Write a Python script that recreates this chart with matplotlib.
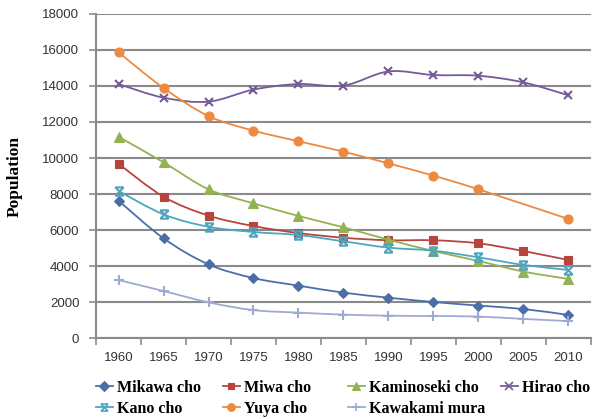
import numpy as np
import matplotlib.pyplot as plt
from matplotlib.path import Path
from matplotlib.patches import PathPatch
from matplotlib.lines import Line2D

years = ["1960", "1965", "1970", "1975", "1980", "1985", "1990", "1995", "2000", "2005", "2010"]

mikawa = [7630, 5540, 4090, 3330, 2910, 2520, 2240, 2000, 1800, 1610, 1280]
miwa = [9680, 7850, 6800, 6220, 5830, 5570, 5430, 5430, 5260, 4830, 4330]
kaminoseki = [11180, 9760, 8260, 7480, 6780, 6150, 5460, 4830, 4280, 3690, 3280]
hirao = [14110, 13350, 13130, 13800, 14110, 14020, 14810, 14610, 14570, 14200, 13480]
kano = [8170, 6870, 6180, 5890, 5720, 5370, 5020, 4850, 4480, 4060, 3780]
yuya = [15870, 13890, 12330, 11520, 10930, 10350, 9700, 9020, 8260, np.nan, 6610]
kawakami = [3220, 2610, 1980, 1550, 1410, 1300, 1240, 1220, 1190, 1060, 940]

names = ["Mikawa cho", "Miwa cho", "Kaminoseki cho", "Hirao cho",
         "Kano cho", "Yuya cho", "Kawakami mura"]
values = [mikawa, miwa, kaminoseki, hirao, kano, yuya, kawakami]
colors = ["#4A6FA8", "#B8443F", "#93B352", "#765A98", "#4DA6C0", "#EE8A40", "#9FAAD3"]

# hourglass-like star marker
star = Path([(-1, -1), (1, 1), (-1, 1), (1, -1), (-1, 1), (1, 1), (-1, -1), (1, -1)],
            [Path.MOVETO, Path.LINETO] * 4)
markers = ["D", "s", "^", "x", star, "o", "+"]
msizes = [5.5, 5.5, 6.5, 6, 6, 6.5, 7]


def smooth_path(x, y):
    # bezier segments like spreadsheet "smoothed line"
    pts = np.column_stack([x, y])
    n = len(pts)
    verts = [pts[0]]
    codes = [Path.MOVETO]
    for i in range(n - 1):
        p0 = pts[max(i - 1, 0)]
        p1 = pts[i]
        p2 = pts[i + 1]
        p3 = pts[min(i + 2, n - 1)]
        c1 = p1 + (p2 - p0) / 6.0
        c2 = p2 - (p3 - p1) / 6.0
        verts += [c1, c2, p2]
        codes += [Path.CURVE4] * 3
    return Path(verts, codes)


plt.rcParams["font.family"] = ["Liberation Sans", "DejaVu Sans"]
fig = plt.figure(figsize=(5.93, 4.19), dpi=100)
ax = fig.add_axes([0.1619, 0.1933, 0.8347, 0.7733])

xs = np.arange(len(years))
for i, (vals, c, m, ms) in enumerate(zip(values, colors, markers, msizes)):
    v = np.array(vals, dtype=float)
    ok = ~np.isnan(v)
    path = smooth_path(xs[ok], v[ok])
    ax.add_patch(PathPatch(path, facecolor="none", edgecolor=c, lw=1.3, zorder=3 + i))
    mew = 1.5 if m in ("x", "+") or m is star else 0.8
    ax.plot(xs[ok], v[ok], linestyle="none", marker=m, markersize=ms,
            color=c, markeredgecolor=c, markeredgewidth=mew, zorder=3 + i)

ax.set_xlim(-0.5, 10.5)
ax.set_ylim(0, 18000)
ax.set_yticks(np.arange(0, 18001, 2000))
ax.set_xticks(xs)
ax.set_xticklabels(years)
ax.set_xticks(np.arange(-0.5, 11, 1), minor=True)
ax.tick_params(axis="x", which="major", length=0, pad=10, labelsize=9.5, labelcolor="#333333")
ax.tick_params(axis="x", which="minor", length=5, width=1.2, color="#8c8c8c")
ax.tick_params(axis="y", length=5, width=1.2, color="#8c8c8c", pad=7,
               labelsize=9.5, labelcolor="#333333")
ax.grid(axis="y", color="#8a8a8a", lw=1.5, zorder=1)
ax.set_axisbelow(True)
for s in ["top", "right"]:
    ax.spines[s].set_visible(False)
for s in ["left", "bottom"]:
    ax.spines[s].set_color("#8a8a8a")
    ax.spines[s].set_linewidth(1.5)

fig.text(15 / 593, 1 - 176 / 419, "Population", rotation=90, ha="center", va="center",
         fontsize=12.5, fontweight="bold", family="Liberation Serif")

# legend laid out in four columns
handles = [Line2D([], [], color=c, lw=1.3, marker=m, markersize=ms * 0.85,
                  markeredgewidth=1.2 if (m in ("x", "+") or m is star) else 0.8)
           for c, m, ms in zip(colors, markers, msizes)]
columns = [[0, 4], [1, 5], [2, 6], [3]]
col_x = [96, 223, 348, 501]
for idx, x0 in zip(columns, col_x):
    leg = fig.legend([handles[k] for k in idx], [names[k] for k in idx],
                     loc="upper left", bbox_to_anchor=(x0 / 593, 1 - 380 / 419),
                     frameon=False, borderpad=0, borderaxespad=0,
                     handlelength=1.05, handletextpad=0.25, labelspacing=0.3,
                     prop={"family": "Liberation Serif", "weight": "bold", "size": 11.5})

fig.savefig("out.png", dpi=100)
